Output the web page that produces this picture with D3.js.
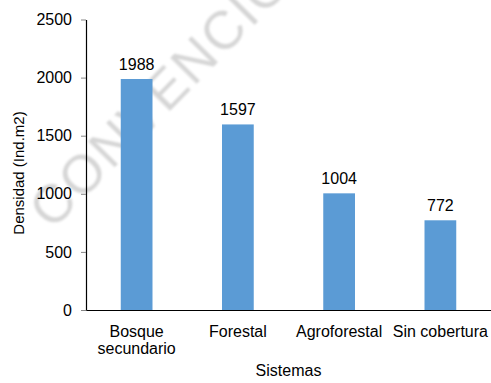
<!DOCTYPE html>
<html>
<head>
<meta charset="utf-8">
<script src="https://cdn.jsdelivr.net/npm/d3@7"></script>
<style>
  html, body { margin: 0; padding: 0; background: #fff; }
  svg { display: block; font-family: "Liberation Sans", Arial, sans-serif; }
</style>
</head>
<body>
<svg id="chart" width="491" height="383"></svg>
<script>
// Densidad por sistema
const categories = [["Bosque", "secundario"], ["Forestal"], ["Agroforestal"], ["Sin cobertura"]];
const values = [1988, 1597, 1004, 772];
const yTicks = [0, 500, 1000, 1500, 2000, 2500];
const yTitle = "Densidad (Ind.m2)";
const xTitle = "Sistemas";
const stampText = "CONVENCIONAL";

const svg = d3.select("#chart");
const plot = { left: 86, right: 491, top: 19.5, bottom: 310 };

const x = d3.scaleBand()
  .domain(d3.range(categories.length))
  .range([plot.left, plot.right])
  .paddingInner(2.19 / 3.19)
  .paddingOuter(2.19 / 3.19 / 2);

const y = d3.scaleLinear()
  .domain([0, 2500])
  .range([plot.bottom, plot.top]);

// faint stamp behind the chart
const defs = svg.append("defs");
defs.append("filter").attr("id", "soft")
  .append("feGaussianBlur").attr("stdDeviation", 1);

svg.append("text")
  .attr("transform", "translate(52,231) rotate(-45.5)")
  .attr("font-size", 54)
  .attr("fill", "#d6d6d6")
  .attr("filter", "url(#soft)")
  .attr("letter-spacing", 2)
  .text(stampText);

// bars
svg.append("g").selectAll("rect")
  .data(values)
  .join("rect")
  .attr("x", (d, i) => x(i))
  .attr("width", x.bandwidth())
  .attr("y", d => y(d))
  .attr("height", d => y(0) - y(d))
  .attr("fill", "#5b9bd5");

// value labels
svg.append("g").selectAll("text")
  .data(values)
  .join("text")
  .attr("x", (d, i) => x(i) + x.bandwidth() / 2)
  .attr("y", d => y(d) - 9)
  .attr("text-anchor", "middle")
  .attr("font-size", 16)
  .attr("fill", "#000")
  .text(d => d);

// y axis
const yAxis = svg.append("g")
  .attr("transform", `translate(${plot.left},0)`)
  .call(d3.axisLeft(y).tickValues(yTicks).tickFormat(d3.format("d"))
    .tickSize(5).tickSizeOuter(0).tickPadding(9));
yAxis.select(".domain").attr("stroke", "#000").attr("stroke-width", 1.2);
yAxis.selectAll(".tick line").attr("stroke", "#868686");
yAxis.selectAll(".tick text")
  .attr("font-size", 16)
  .attr("font-family", "Liberation Sans, Arial, sans-serif")
  .attr("fill", "#000");

// x axis
const xAxis = svg.append("g")
  .attr("transform", `translate(0,${plot.bottom})`)
  .call(d3.axisBottom(x).tickSize(0).tickSizeOuter(0).tickFormat(""));
xAxis.select(".domain").attr("stroke", "#000").attr("stroke-width", 1.2);
xAxis.selectAll(".tick").each(function (d) {
  const t = d3.select(this).select("text")
    .attr("font-size", 16)
    .attr("font-family", "Liberation Sans, Arial, sans-serif")
    .attr("fill", "#000")
    .attr("dy", null)
    .attr("y", 0);
  categories[d].forEach((line, k) => {
    t.append("tspan").attr("x", 0).attr("y", 27 + k * 17).text(line);
  });
});

// axis titles
svg.append("text")
  .attr("x", (plot.left + plot.right) / 2)
  .attr("y", 376)
  .attr("text-anchor", "middle")
  .attr("font-size", 16)
  .text(xTitle);

svg.append("text")
  .attr("transform", "translate(24,173) rotate(-90)")
  .attr("text-anchor", "middle")
  .attr("font-size", 15)
  .text(yTitle);
</script>
</body>
</html>
